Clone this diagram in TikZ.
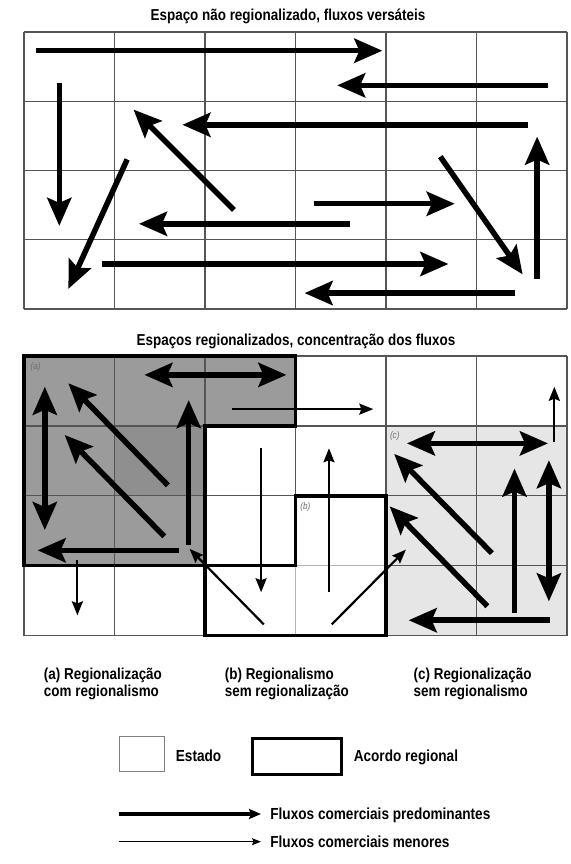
\documentclass[tikz,border=0pt]{standalone}
\usepackage{fontspec}
\setmainfont{Liberation Sans}[FakeStretch=0.85]
\usetikzlibrary{arrows.meta}
\definecolor{agray}{HTML}{9B9B9B}
\definecolor{adark}{HTML}{8F8F8F}
\definecolor{cgray}{HTML}{E6E6E6}
\definecolor{gridc}{HTML}{555555}
\definecolor{gridlight}{HTML}{B4B4B4}
\definecolor{tagc}{HTML}{6E6E6E}
\begin{document}
\begin{tikzpicture}[x=0.5pt,y=-0.5pt,
  thk/.style={line width=2.75pt,-{Stealth[length=14pt,width=12pt,inset=2.5pt]}},
  thkd/.style={line width=2.75pt,{Stealth[length=14pt,width=12pt,inset=2.5pt]}-{Stealth[length=14pt,width=12pt,inset=2.5pt]}},
  thn/.style={line width=1.1pt,-{Stealth[length=7pt,width=5.5pt,inset=1pt]}},
  gridl/.style={draw=gridc,line width=0.6pt},
  regborder/.style={draw=black,line width=1.7pt,line join=miter},
  txt/.style={font=\fontsize{7.9}{9.5}\selectfont\bfseries,inner sep=0pt},
  legtxt/.style={font=\fontsize{8}{9.5}\selectfont\bfseries,inner sep=0pt},
  tag/.style={font=\fontsize{4.8}{5}\selectfont\itshape,text=tagc,inner sep=0pt,anchor=west},
  legthk/.style={line width=2pt,-{Stealth[length=6pt,width=5pt,inset=1pt]}},
  legthn/.style={line width=0.75pt,-{Stealth[length=4.5pt,width=3.5pt,inset=0.8pt]}}]
\useasboundingbox (0,0) rectangle (571,864);
\fill[white] (0,0) rectangle (571,864);

% ---------- titles
\node[txt,anchor=base] (t1) at (288,20.7) {Espaço não regionalizado, fluxos versáteis};
\node[txt,anchor=base] (t2) at (296,345) {Espaços regionalizados, concentração dos fluxos};

% ---------- top grid
\begin{scope}[shift={(12pt,-16pt)},x=45.25pt,y=-34.625pt]
  \foreach \i in {0,...,6} \draw[gridl] (\i,0) -- (\i,4);
  \foreach \j in {0,...,4} \draw[gridl] (0,\j) -- (6,\j);
  \draw[thk] (0.13,0.27) -- (3.96,0.27);
  \draw[thk] (5.79,0.77) -- (3.46,0.77);
  \draw[thk] (0.39,0.73) -- (0.39,2.80);
  \draw[thk] (5.57,1.34) -- (1.75,1.34);
  \draw[thk] (2.32,2.57) -- (1.21,1.12);
  \draw[thk] (1.14,1.84) -- (0.49,3.71);
  \draw[thk] (3.20,2.48) -- (4.76,2.48);
  \draw[thk] (3.60,2.77) -- (1.27,2.77);
  \draw[thk] (0.86,3.35) -- (4.69,3.35);
  \draw[thk] (5.43,3.77) -- (3.10,3.77);
  \draw[thk] (4.60,1.80) -- (5.51,3.50);
  \draw[thk] (5.67,3.57) -- (5.67,1.51);
\end{scope}

% ---------- bottom grid
\begin{scope}[shift={(12pt,-178pt)},x=45.25pt,y=-34.95pt]
  \fill[agray] (0,0) -- (3,0) -- (3,1) -- (2,1) -- (2,3) -- (0,3) -- cycle;
  \fill[adark] (1,1) rectangle (2,2);
  \fill[cgray] (4,1) rectangle (6,4);
  \foreach \i in {0,...,6} \draw[gridl] (\i,0) -- (\i,4);
  \foreach \j in {0,...,4} \draw[gridl] (0,\j) -- (6,\j);
  \draw[white,line width=1pt] (3,3) -- (3,4) (3,3) -- (4,3);
  \draw[draw=gridlight,line width=0.6pt] (3,3) -- (3,4) (3,3) -- (4,3);
  \draw[regborder] (0,0) -- (3,0) -- (3,1) -- (2,1) -- (2,3) -- (0,3) -- cycle;
  \draw[regborder] (2,3) -- (3,3) -- (3,2) -- (4,2) -- (4,4) -- (2,4) -- cycle;
  \node[tag] (tga) at (0.07,0.16) {(a)};
  \node[tag] (tgb) at (3.05,2.16) {(b)};
  \node[tag] (tgc) at (4.04,1.15) {(c)};
  % (a)
  \draw[thkd] (0.23,0.44) -- (0.23,2.49);
  \draw[thk] (1.59,1.85) -- (0.49,0.39);
  \draw[thk] (1.55,2.58) -- (0.45,1.13);
  \draw[thkd] (1.33,0.27) -- (2.90,0.27);
  \draw[thk] (1.82,2.70) -- (1.82,0.63);
  \draw[thk] (1.71,2.78) -- (0.15,2.78);
  \draw[thn] (0.59,2.92) -- (0.59,3.71);
  \draw[thn] (2.30,0.76) -- (3.86,0.76);
  % (b)
  \draw[thn] (2.62,1.32) -- (2.62,3.38);
  \draw[thn] (3.37,3.38) -- (3.37,1.32);
  \draw[thn] (2.65,3.84) -- (1.83,2.76);
  \draw[thn] (3.40,3.84) -- (4.22,2.77);
  % (c)
  \draw[thkd] (4.23,1.25) -- (5.79,1.25);
  \draw[thn] (5.86,1.23) -- (5.86,0.44);
  \draw[thk] (5.17,2.82) -- (4.09,1.40);
  \draw[thk] (5.12,3.58) -- (4.04,2.15);
  \draw[thk] (5.42,3.67) -- (5.42,1.61);
  \draw[thkd] (5.80,1.49) -- (5.80,3.51);
  \draw[thk] (5.81,3.78) -- (4.25,3.78);
\end{scope}

% ---------- captions
\node[txt,anchor=base west] (ca1) at (43.6,679.5) {(a) Regionalização};
\node[txt,anchor=base west] (ca2) at (43.6,696) {com regionalismo};
\node[txt,anchor=base west] (cb1) at (224.5,679.5) {(b) Regionalismo};
\node[txt,anchor=base west] (cb2) at (224.5,696) {sem regionalização};
\node[txt,anchor=base west] (cc1) at (413.3,679.5) {(c) Regionalização};
\node[txt,anchor=base west] (cc2) at (413.3,696) {sem regionalismo};

% ---------- legend
\draw[draw=gray,line width=0.5pt] (119.2,736.7) rectangle (164.6,771.7);
\node[legtxt,anchor=base west] (est) at (175.5,761.7) {Estado};
\draw[line width=1.5pt] (252,738.5) rectangle (341,774.5);
\node[legtxt,anchor=base west] (acr) at (353.4,761.7) {Acordo regional};
\coordinate (la1) at (119,814);
\coordinate (lb1) at (261,814);
\draw[legthk] (la1) -- (lb1);
\node[legtxt,anchor=base west] (fl1) at (270,819.5) {Fluxos comerciais predominantes};
\coordinate (la2) at (119,841.7);
\coordinate (lb2) at (261,841.7);
\draw[legthn] (la2) -- (lb2);
\node[legtxt,anchor=base west] (fl2) at (270,847) {Fluxos comerciais menores};
\end{tikzpicture}
\end{document}
